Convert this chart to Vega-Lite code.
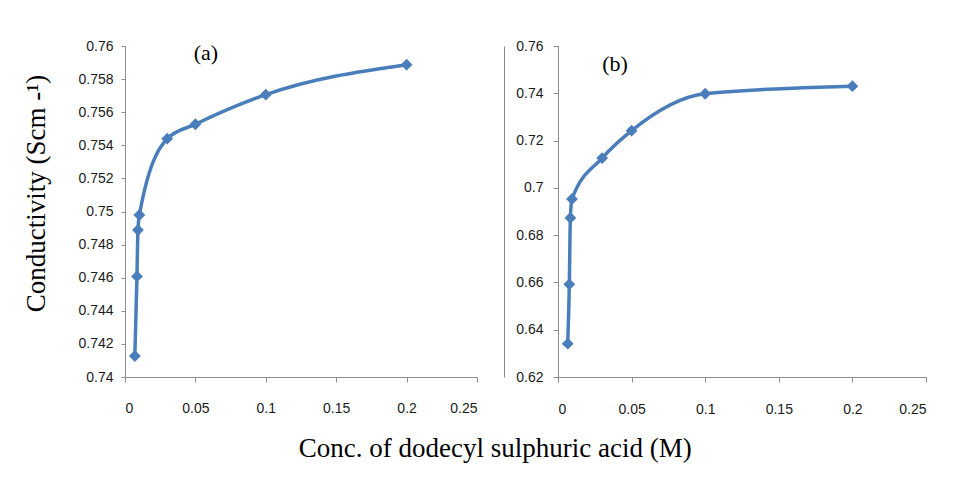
{
  "$schema": "https://vega.github.io/schema/vega-lite/v6.json",
  "background": "white",
  "padding": {"left": 21, "top": 39, "right": 20, "bottom": 19},
  "spacing": 26,
  "config": {
    "view": {"stroke": null},
    "axis": {
      "grid": false,
      "domainColor": "#8c8c8c",
      "tickColor": "#8c8c8c",
      "labelFont": "Liberation Sans",
      "labelFontSize": 14,
      "labelColor": "#1a1a1a",
      "titleFont": "Liberation Serif",
      "titleFontWeight": "normal",
      "titleColor": "#000000"
    }
  },
  "title": {
    "text": "Conc. of dodecyl sulphuric acid (M)",
    "orient": "bottom",
    "anchor": "middle",
    "font": "Liberation Serif",
    "fontSize": 27,
    "fontWeight": "normal",
    "color": "#000000",
    "offset": 20,
    "dx": 21
  },
  "datasets": {
    "a": [
      {"conc": 0.007, "cond": 0.74127},
      {"conc": 0.0085, "cond": 0.74608},
      {"conc": 0.0092, "cond": 0.74888},
      {"conc": 0.0102, "cond": 0.74979},
      {"conc": 0.03, "cond": 0.7544},
      {"conc": 0.05, "cond": 0.75527},
      {"conc": 0.1, "cond": 0.75706},
      {"conc": 0.2, "cond": 0.75887}
    ],
    "b": [
      {"conc": 0.0066, "cond": 0.6341},
      {"conc": 0.0077, "cond": 0.6592},
      {"conc": 0.0084, "cond": 0.6873},
      {"conc": 0.0095, "cond": 0.6953},
      {"conc": 0.03, "cond": 0.7126},
      {"conc": 0.05, "cond": 0.7242},
      {"conc": 0.1, "cond": 0.7398},
      {"conc": 0.2, "cond": 0.743}
    ],
    "labelA": [{"conc": 0.0575, "cond": 0.7596, "label": "(a)"}],
    "labelB": [{"conc": 0.0387, "cond": 0.7524, "label": "(b)"}]
  },
  "hconcat": [
    {
      "width": 352,
      "height": 331,
      "data": {"name": "a"},
      "encoding": {
        "x": {
          "field": "conc", "type": "quantitative",
          "scale": {"domain": [0, 0.25], "nice": false, "zero": false},
          "axis": {"values": [0, 0.05, 0.1, 0.15, 0.2, 0.25], "format": "~g", "title": null, "labelPadding": 19, "tickSize": 5}
        },
        "y": {
          "field": "cond", "type": "quantitative",
          "scale": {"domain": [0.74, 0.76], "nice": false, "zero": false},
          "axis": {
            "values": [0.74, 0.742, 0.744, 0.746, 0.748, 0.75, 0.752, 0.754, 0.756, 0.758, 0.76],
            "format": ".3~f", "labelPadding": 8, "tickSize": 4,
            "title": "Conductivity (Scm -¹)", "titleFontSize": 27, "titleX": -75, "titleY": 147
          }
        }
      },
      "layer": [
        {"mark": {"type": "line", "interpolate": "monotone", "color": "#4A7EBB", "strokeWidth": 3.5}},
        {"mark": {"type": "point", "shape": "diamond", "filled": true, "size": 140, "color": "#4A7EBB", "opacity": 1}},
        {
          "data": {"name": "labelA"},
          "mark": {"type": "text", "font": "Liberation Serif", "fontSize": 22, "fontWeight": "normal", "color": "#000000"},
          "encoding": {"text": {"field": "label"}}
        }
      ]
    },
    {
      "width": 368,
      "height": 331,
      "data": {"name": "b"},
      "encoding": {
        "x": {
          "field": "conc", "type": "quantitative",
          "scale": {"domain": [0, 0.25], "nice": false, "zero": false},
          "axis": {"values": [0, 0.05, 0.1, 0.15, 0.2, 0.25], "format": "~g", "title": null, "labelPadding": 20, "tickSize": 5}
        }
      },
      "layer": [
        {
          "encoding": {
            "y": {
              "field": "cond", "type": "quantitative",
              "scale": {"domain": [0.62, 0.76], "nice": false, "zero": false},
              "axis": {
                "values": [0.62, 0.64, 0.66, 0.68, 0.7, 0.72, 0.74, 0.76],
                "format": ".2~f", "labelPadding": 10, "tickSize": 5, "title": null
              }
            }
          },
          "layer": [
            {"mark": {"type": "line", "interpolate": "monotone", "color": "#4A7EBB", "strokeWidth": 3.5}},
            {"mark": {"type": "point", "shape": "diamond", "filled": true, "size": 140, "color": "#4A7EBB", "opacity": 1}},
            {
              "data": {"name": "labelB"},
              "mark": {"type": "text", "font": "Liberation Serif", "fontSize": 22, "fontWeight": "normal", "color": "#000000"},
              "encoding": {"text": {"field": "label"}}
            }
          ]
        },
        {
          "mark": {"type": "point", "opacity": 0},
          "encoding": {
            "y": {
              "field": "cond", "type": "quantitative",
              "scale": {"zero": false},
              "axis": {"orient": "left", "offset": 54, "labels": false, "ticks": false, "grid": false, "title": null, "domainColor": "#888888"}
            }
          }
        }
      ],
      "resolve": {"scale": {"y": "independent"}}
    }
  ]
}
